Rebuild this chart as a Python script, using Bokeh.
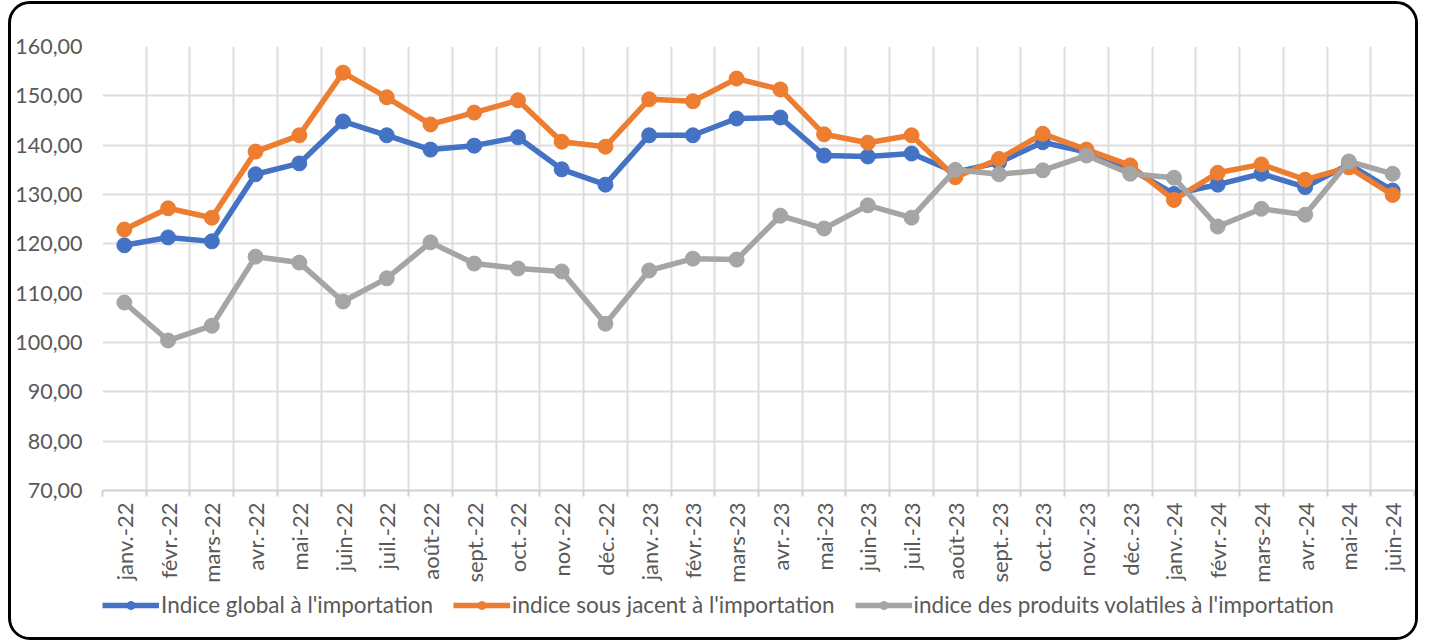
from math import pi
from bokeh.plotting import figure
from bokeh.layouts import column
from bokeh.models import Range1d, FixedTicker, Legend, LegendItem
from bokeh.embed import file_html
from bokeh.resources import INLINE

months = ["janv.-22", "févr.-22", "mars-22", "avr.-22", "mai-22", "juin-22",
          "juil.-22", "août-22", "sept.-22", "oct.-22", "nov.-22", "déc.-22",
          "janv.-23", "févr.-23", "mars-23", "avr.-23", "mai-23", "juin-23",
          "juil.-23", "août-23", "sept.-23", "oct.-23", "nov.-23", "déc.-23",
          "janv.-24", "févr.-24", "mars-24", "avr.-24", "mai-24", "juin-24"]

indice_global = [119.7, 121.3, 120.5, 134.1, 136.3, 144.8, 142.0, 139.1, 139.9, 141.6,
                 135.1, 132.0, 142.0, 142.0, 145.4, 145.6, 137.9, 137.7, 138.3, 134.5,
                 136.5, 140.6, 138.6, 135.2, 130.1, 132.0, 134.2, 131.5, 136.1, 130.8]

indice_sous_jacent = [122.9, 127.2, 125.3, 138.7, 142.0, 154.7, 149.7, 144.2, 146.6, 149.1,
                      140.7, 139.7, 149.3, 148.9, 153.5, 151.3, 142.2, 140.5, 142.0, 133.5,
                      137.2, 142.3, 139.1, 135.9, 128.9, 134.4, 136.1, 133.0, 135.5, 129.9]

indice_volatiles = [108.1, 100.4, 103.4, 117.4, 116.2, 108.3, 113.0, 120.3, 116.0, 115.0,
                    114.4, 103.8, 114.6, 117.0, 116.8, 125.7, 123.1, 127.8, 125.3, 135.0,
                    134.1, 134.9, 137.9, 134.2, 133.4, 123.5, 127.1, 125.9, 136.7, 134.2]

series_names = ["Indice global à l'importation",
                "indice sous jacent à l'importation",
                "indice des produits volatiles à l'importation"]
series_colors = ["#4472C4", "#ED7D31", "#A5A5A5"]

y_ticks = [70, 80, 90, 100, 110, 120, 130, 140, 150, 160]

FONT = "Lato"
TEXT_COLOR = "#595959"
GRID_COLOR = "#dddddd"

x = list(range(len(months)))
boundaries = [i - 0.5 for i in range(len(months) + 1)]
all_series = [indice_global, indice_sous_jacent, indice_volatiles]

# ---- main chart ----
p = figure(frame_width=1312, frame_height=444, output_backend="svg", toolbar_location=None,
           x_range=Range1d(-0.5, len(months) - 0.5), y_range=Range1d(70, 160),
           min_border_left=91, min_border_right=1, min_border_top=42, min_border_bottom=102,
           outline_line_color=None)

p.yaxis.ticker = FixedTicker(ticks=y_ticks)
p.yaxis.major_label_overrides = {v: f"{v},00" for v in y_ticks}
p.yaxis.axis_line_color = None
p.yaxis.major_tick_line_color = None
p.yaxis.minor_tick_line_color = None
p.yaxis.major_tick_out = 0
p.yaxis.major_label_text_font = FONT
p.yaxis.major_label_text_font_size = "21.5px"
p.yaxis.major_label_text_color = TEXT_COLOR
p.yaxis.major_label_standoff = 20

p.xaxis.ticker = FixedTicker(ticks=x, minor_ticks=boundaries)
p.xaxis.major_label_overrides = {i: m for i, m in enumerate(months)}
p.xaxis.major_label_orientation = pi / 2
p.xaxis.major_tick_line_color = None
p.xaxis.major_tick_out = 0
p.xaxis.minor_tick_line_color = "#d0d0d0"
p.xaxis.minor_tick_line_width = 2
p.xaxis.minor_tick_in = 0
p.xaxis.minor_tick_out = 6
p.xaxis.axis_line_color = "#d0d0d0"
p.xaxis.axis_line_width = 2
p.xaxis.major_label_text_font = FONT
p.xaxis.major_label_text_font_size = "22px"
p.xaxis.major_label_text_color = TEXT_COLOR
p.xaxis.major_label_standoff = 6

p.xgrid.ticker = FixedTicker(ticks=boundaries)
p.xgrid.grid_line_color = GRID_COLOR
p.xgrid.grid_line_width = 2
p.ygrid.grid_line_color = GRID_COLOR
p.ygrid.grid_line_width = 2

for vals, col in zip(all_series, series_colors):
    p.line(x, vals, line_color=col, line_width=5.5)
    p.scatter(x, vals, size=15, fill_color=col, line_color=col)

# ---- legend strip (same series, drawn out of its view; only the legend shows) ----
lg = figure(width=1404, height=45, output_backend="svg", toolbar_location=None,
            x_range=Range1d(1000, 1001), y_range=Range1d(1000, 1001),
            x_axis_location=None, y_axis_location=None,
            min_border_left=0, min_border_right=0, min_border_top=0, min_border_bottom=0,
            outline_line_color=None)
lg.grid.visible = False

items = []
for name, vals, col in zip(series_names, all_series, series_colors):
    r1 = lg.line(x, vals, line_color=col, line_width=5.5)
    r2 = lg.scatter(x, vals, size=15, fill_color=col, line_color=col)
    items.append(LegendItem(label=name, renderers=[r1, r2]))

legend = Legend(items=items, location=(0, 19), orientation="horizontal",
                glyph_width=57, glyph_height=20, label_standoff=2, spacing=20,
                padding=0, margin=0, border_line_color=None, background_fill_alpha=0,
                label_text_font=FONT, label_text_font_size="22.5px",
                label_text_color=TEXT_COLOR)
lg.add_layout(legend, "center")

layout = column(p, lg, spacing=0)
layout.styles = {"border": "3px solid black", "border-radius": "22px",
                 "margin-left": "8px", "margin-top": "1px", "overflow": "hidden"}

open("out.html", "w").write(file_html(layout, INLINE))
